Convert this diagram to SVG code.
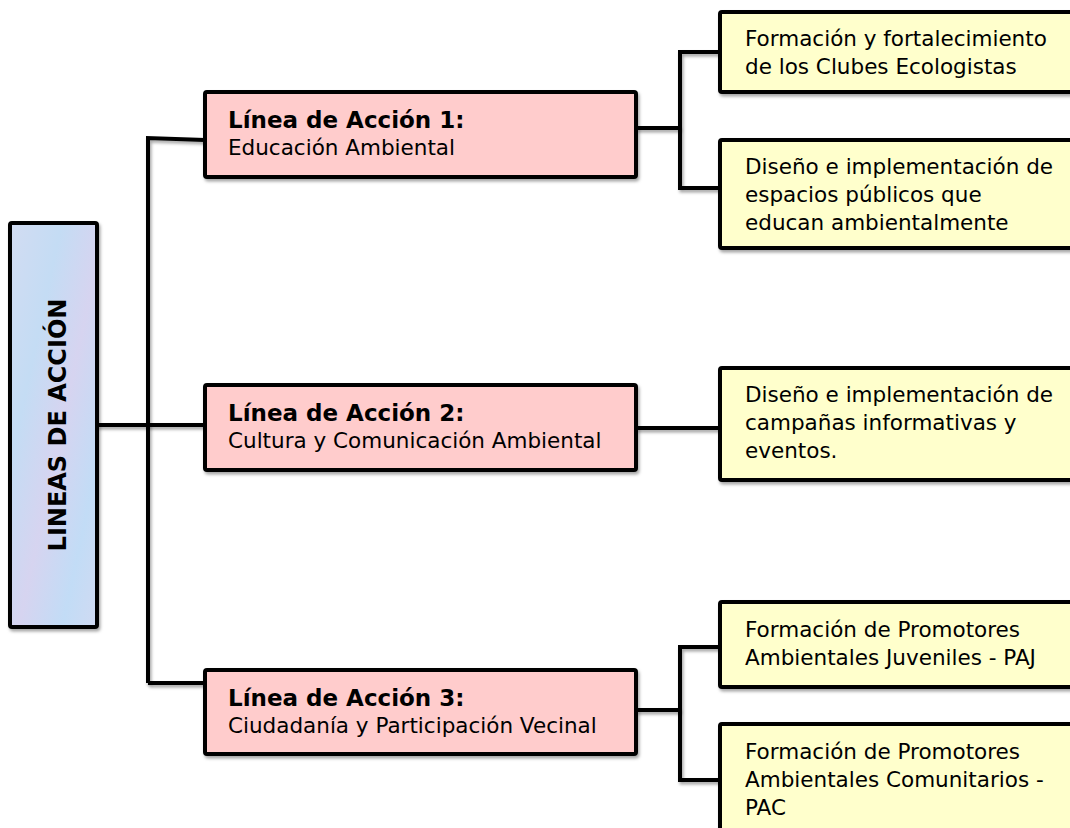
<svg xmlns="http://www.w3.org/2000/svg" width="1070" height="828" viewBox="0 0 1070 828">
<defs>
<linearGradient id="bluegrad" x1="0" y1="0" x2="1" y2="1">
<stop offset="0" stop-color="#d2dcf2"/>
<stop offset="0.3" stop-color="#c4dcf4"/>
<stop offset="0.55" stop-color="#d6d4f0"/>
<stop offset="0.8" stop-color="#c2dcf6"/>
<stop offset="1" stop-color="#d0daf2"/>
</linearGradient>
<filter id="sh" filterUnits="userSpaceOnUse" x="0" y="0" width="1070" height="828">
<feDropShadow dx="1.5" dy="2.5" stdDeviation="1.5" flood-color="#000" flood-opacity="0.35"/>
</filter>
</defs>
<style>
.box{stroke:#000;stroke-width:4;filter:url(#sh)}
.pink{fill:#ffcccc}
.yellow{fill:#ffffcc}
.conn{fill:none;stroke:#000;stroke-width:4;filter:url(#sh)}
text{font-family:"DejaVu Sans",Verdana,sans-serif;fill:#000}
.t{font-size:21.5px}
.b{font-size:23px;font-weight:bold}
.main{font-size:24px;font-weight:bold}
</style>
<rect width="1070" height="828" fill="#fff"/>
<g id="connectors">
<path class="conn" d="M97,425 H148"/>
<path class="conn" d="M148,683 V138 L205,140"/>
<path class="conn" d="M148,425 H205"/>
<path class="conn" d="M148,683 H205"/>
<path class="conn" d="M636,128 H680"/>
<path class="conn" d="M720,52 H680 V188 H720"/>
<path class="conn" d="M636,428 H720"/>
<path class="conn" d="M636,710 H680"/>
<path class="conn" d="M720,647 H680 V780 H720"/>
</g>
<g id="root">
<rect class="box" x="10" y="223" width="87" height="404" rx="2" fill="url(#bluegrad)"/>
<text class="main" transform="translate(66,425) rotate(-90)" text-anchor="middle">LINEAS DE ACCIÓN</text>
</g>
<g id="linea1">
<rect class="box pink" x="205" y="92" width="431" height="85" rx="2"/>
<text class="b" x="228" y="128">Línea de Acción 1:</text>
<text class="t" x="228" y="155">Educación Ambiental</text>
</g>
<g id="linea2">
<rect class="box pink" x="205" y="385" width="431" height="85" rx="2"/>
<text class="b" x="228" y="421">Línea de Acción 2:</text>
<text class="t" x="228" y="448">Cultura y Comunicación Ambiental</text>
</g>
<g id="linea3">
<rect class="box pink" x="205" y="670" width="431" height="84" rx="2"/>
<text class="b" x="228" y="706">Línea de Acción 3:</text>
<text class="t" x="228" y="733">Ciudadanía y Participación Vecinal</text>
</g>
<g id="sub1">
<rect class="box yellow" x="720" y="12" width="360" height="80" rx="2"/>
<text class="t" x="745" y="46">Formación y fortalecimiento</text>
<text class="t" x="745" y="74">de los Clubes Ecologistas</text>
</g>
<g id="sub2">
<rect class="box yellow" x="720" y="140" width="360" height="108" rx="2"/>
<text class="t" x="745" y="174">Diseño e implementación de</text>
<text class="t" x="745" y="202">espacios públicos que</text>
<text class="t" x="745" y="230">educan ambientalmente</text>
</g>
<g id="sub3">
<rect class="box yellow" x="720" y="368" width="360" height="112" rx="2"/>
<text class="t" x="745" y="402">Diseño e implementación de</text>
<text class="t" x="745" y="430">campañas informativas y</text>
<text class="t" x="745" y="458">eventos.</text>
</g>
<g id="sub4">
<rect class="box yellow" x="720" y="602" width="360" height="85" rx="2"/>
<text class="t" x="745" y="637">Formación de Promotores</text>
<text class="t" x="745" y="665">Ambientales Juveniles - PAJ</text>
</g>
<g id="sub5">
<rect class="box yellow" x="720" y="724" width="360" height="120" rx="2"/>
<text class="t" x="745" y="759">Formación de Promotores</text>
<text class="t" x="745" y="787">Ambientales Comunitarios -</text>
<text class="t" x="745" y="815">PAC</text>
</g>
</svg>
